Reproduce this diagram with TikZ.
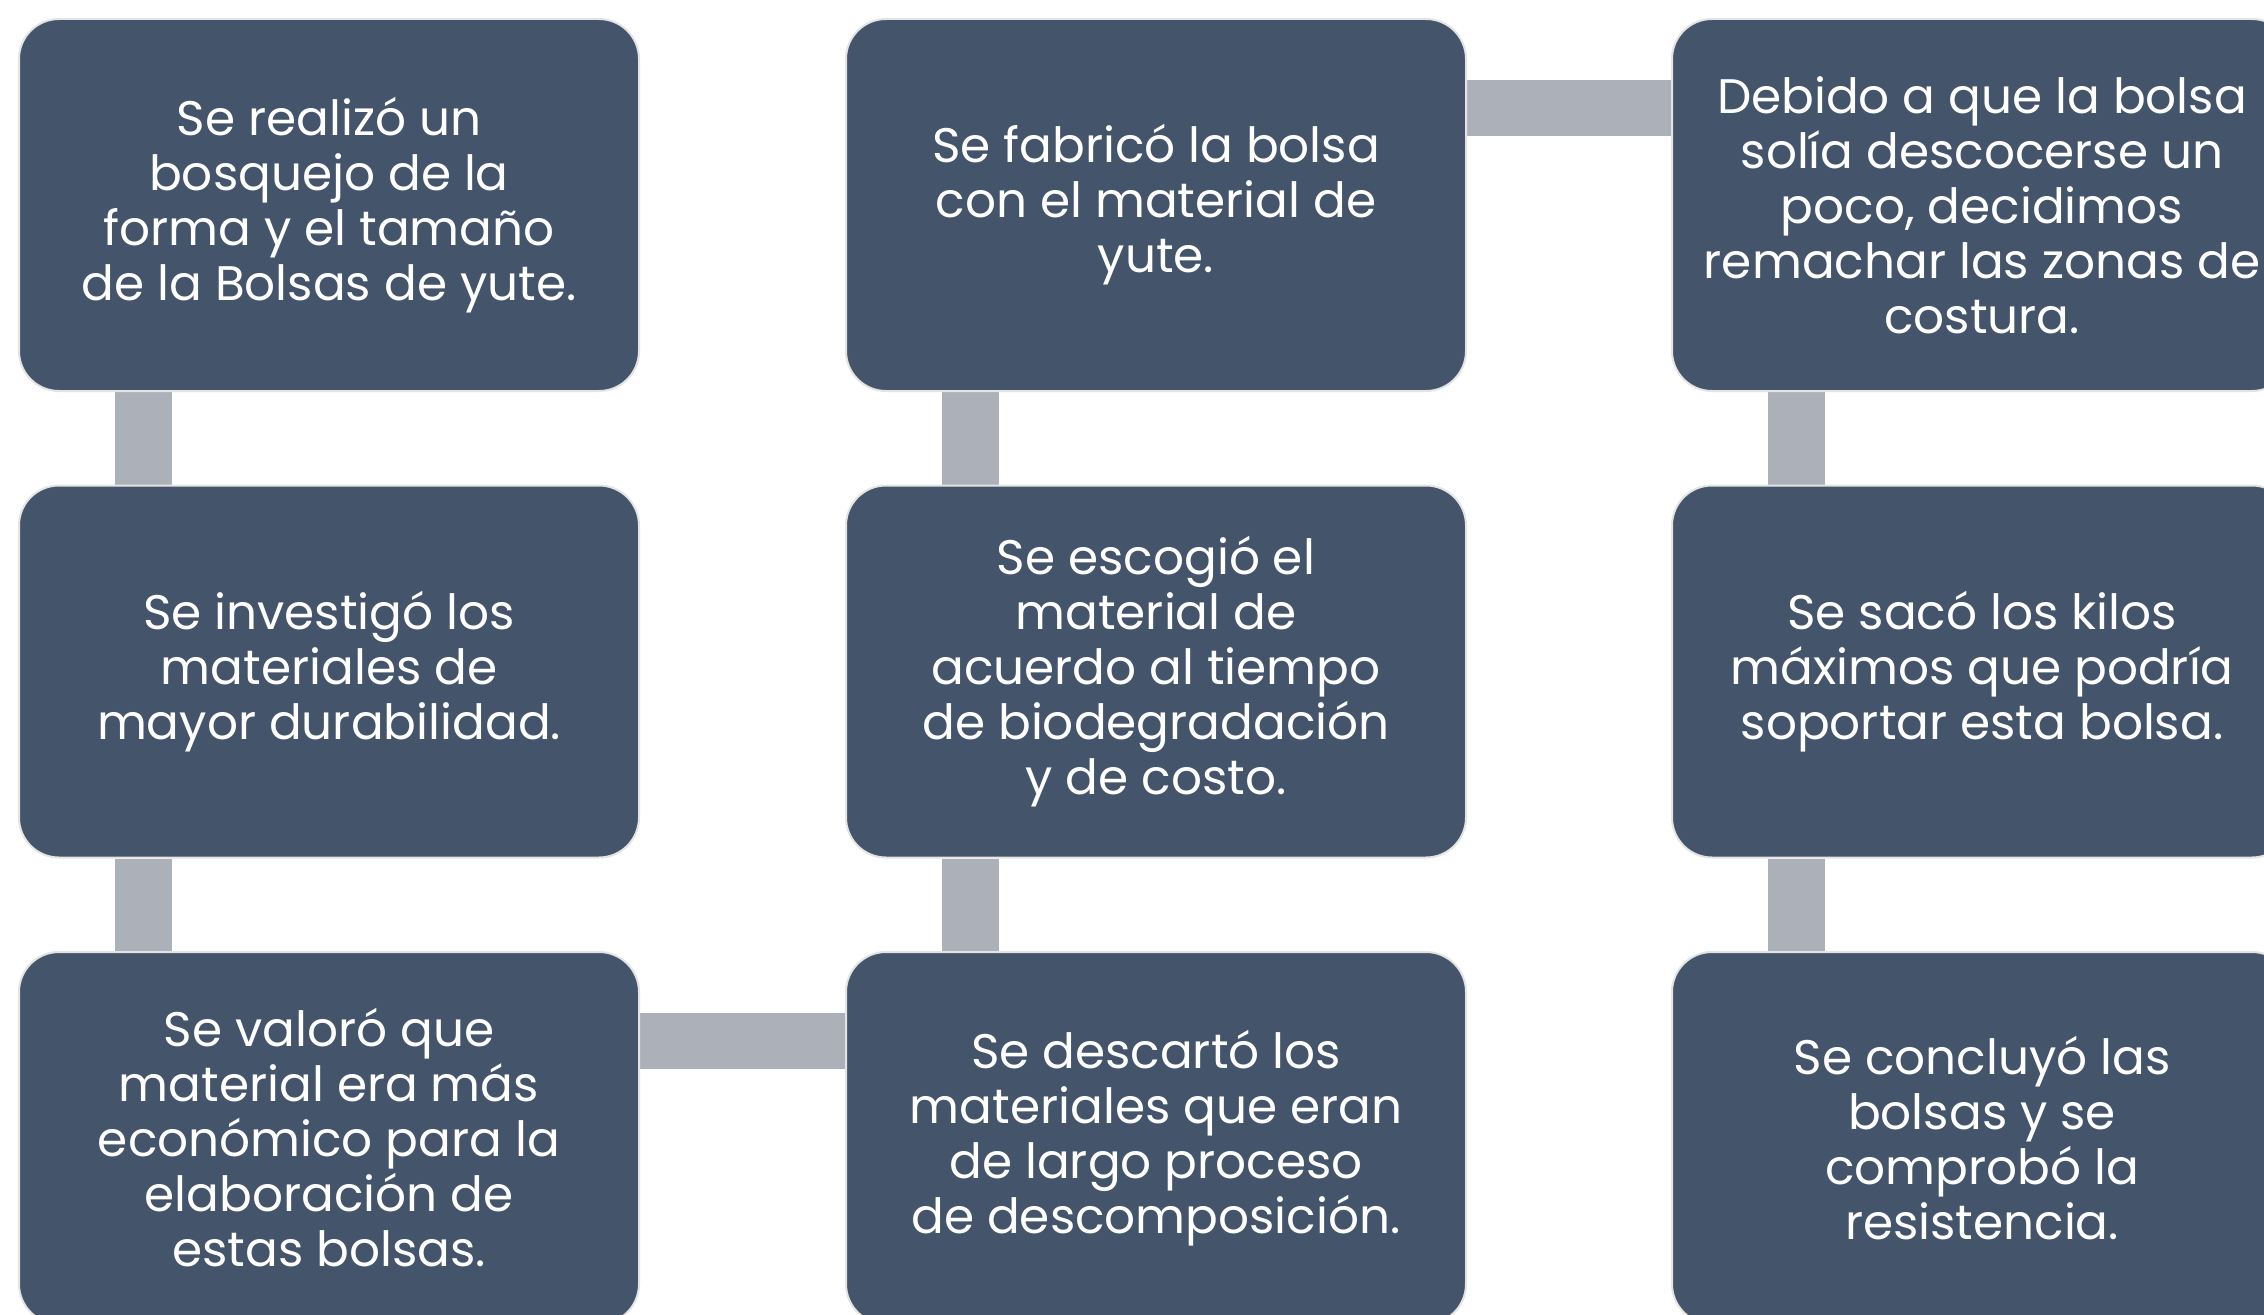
\documentclass[tikz,border=0pt]{standalone}
\usepackage{fontspec}
\setmainfont{Poppins}
\usetikzlibrary{calc}
\pgfdeclarelayer{background}
\pgfsetlayers{background,main}
\definecolor{boxfill}{HTML}{44546A}
\definecolor{boxline}{HTML}{E4E4E4}
\definecolor{barcol}{HTML}{ACB0B8}
\tikzset{
  stepbox/.style={rectangle, rounded corners=40pt, fill=boxfill, draw=boxline, line width=2pt,
    minimum width=620pt, minimum height=372pt, anchor=north west, inner sep=0pt,
    text=white, align=center, font=\fontsize{48.5}{55}\selectfont},
  vbar/.style={draw=barcol, line width=57pt},
  hbar/.style={draw=barcol, line width=56pt}
}
\begin{document}
\begin{tikzpicture}[x=1pt,y=-1pt]
\useasboundingbox (0,0) rectangle (2264,1314);
\clip (0,0) rectangle (2264,1314);
\node[stepbox] (A) at (18,18) {Se realizó un\\bosquejo de la\\forma y el tamaño\\de la Bolsas de yute.};
\node[stepbox] (B) at (18,484.5) {Se investigó los\\materiales de\\mayor durabilidad.};
\node[stepbox] (C) at (18,951) {Se valoró que\\material era más\\económico para la\\elaboración de\\estas bolsas.};
\node[stepbox] (D) at (845,951) {Se descartó los\\materiales que eran\\de largo proceso\\de descomposición.};
\node[stepbox] (E) at (845,484.5) {Se escogió el\\material de\\acuerdo al tiempo\\de biodegradación\\y de costo.};
\node[stepbox] (F) at (845,18) {Se fabricó la bolsa\\con el material de\\yute.};
\node[stepbox] (G) at (1671,18) {Debido a que la bolsa\\solía descocerse un\\poco, decidimos\\remachar las zonas de\\costura.};
\node[stepbox] (H) at (1671,484.5) {Se sacó los kilos\\máximos que podría\\soportar esta bolsa.};
\node[stepbox] (I) at (1671,951) {Se concluyó las\\bolsas y se\\comprobó la\\resistencia.};
\begin{pgfonlayer}{background}
\fill[white] (0,0) rectangle (2264,1314);
\draw[vbar] ($(A.south west)+(125,0)$) -- ($(B.north west)+(125,0)$);
\draw[vbar] ($(B.south west)+(125,0)$) -- ($(C.north west)+(125,0)$);
\draw[hbar] ($(C.north east)+(0,90)$) -- ($(D.north west)+(0,90)$);
\draw[vbar] ($(D.north west)+(125,0)$) -- ($(E.south west)+(125,0)$);
\draw[vbar] ($(E.north west)+(125,0)$) -- ($(F.south west)+(125,0)$);
\draw[hbar] ($(F.north east)+(0,90)$) -- ($(G.north west)+(0,90)$);
\draw[vbar] ($(G.south west)+(125,0)$) -- ($(H.north west)+(125,0)$);
\draw[vbar] ($(H.south west)+(125,0)$) -- ($(I.north west)+(125,0)$);
\end{pgfonlayer}
\end{tikzpicture}
\end{document}
